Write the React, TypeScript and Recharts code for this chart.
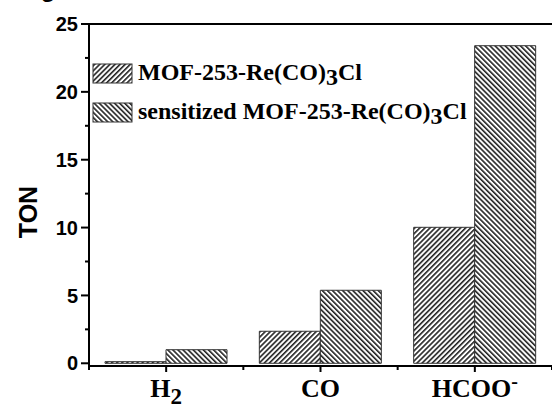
import { Bar, BarChart, Customized, ReferenceLine, XAxis, YAxis } from "recharts";

const categories = ["H2", "CO", "HCOO-"];
const mofValues = [0.12, 2.36, 10.02];
const sensitizedValues = [1.0, 5.38, 23.4];
const seriesNames = ["MOF-253-Re(CO)3Cl", "sensitized MOF-253-Re(CO)3Cl"];
const yTicks = [0, 2.5, 5, 7.5, 10, 12.5, 15, 17.5, 20, 22.5, 25];
const yMajor = [0, 5, 10, 15, 20, 25];

const data = categories.map((name, i) => ({
  name,
  mof: mofValues[i],
  sensitized: sensitizedValues[i],
}));

const serif = "'Liberation Serif', 'Times New Roman', serif";
const sans = "'Liberation Sans', Arial, sans-serif";

function YTick(props: any) {
  const { x, y, payload } = props;
  const major = yMajor.includes(payload.value);
  return (
    <g>
      <line x1={x} x2={x - (major ? 8 : 4)} y1={y} y2={y} stroke="#000" strokeWidth={2} />
      {major && (
        <text x={x - 11} y={y} dy="0.36em" textAnchor="end" fontFamily={sans} fontWeight="bold" fontSize={20} fill="#000">
          {payload.value}
        </text>
      )}
    </g>
  );
}

function categoryLabel(v: string) {
  if (v === "H2")
    return (
      <>
        H<tspan fontSize={23} dy={7}>2</tspan>
      </>
    );
  if (v === "HCOO-")
    return (
      <>
        HCOO<tspan fontSize={20} dy={-9}>-</tspan>
      </>
    );
  return v;
}

function XTick(props: any) {
  const { x, y, payload, index } = props;
  const half = payload.offset || 77;
  return (
    <g>
      <line x1={x} x2={x} y1={y} y2={y + 6} stroke="#000" strokeWidth={2} />
      <line x1={x - half} x2={x - half} y1={y} y2={y + 4} stroke="#000" strokeWidth={2} />
      {index === categories.length - 1 && (
        <line x1={x + half} x2={x + half} y1={y} y2={y + 4} stroke="#000" strokeWidth={2} />
      )}
      <text x={x} y={y + 31} textAnchor="middle" fontFamily={serif} fontWeight="bold" fontSize={26} fill="#000">
        {categoryLabel(payload.value)}
      </text>
    </g>
  );
}

function legendName(s: string) {
  const [head, tail] = s.split(")3");
  return (
    <>
      {head})<tspan dy={5}>3</tspan>
      <tspan dy={-5}>{tail}</tspan>
    </>
  );
}

function Extras() {
  const fills = ["url(#hatchA)", "url(#hatchB)"];
  return (
    <g>
      <text x={48} y={-3} textAnchor="middle" fontFamily={sans} fontWeight="bold" fontSize={24} fill="#000">
        g
      </text>
      <text
        x={28}
        y={212}
        transform="rotate(-90 28 212)"
        textAnchor="middle"
        dy="0.35em"
        fontFamily={sans}
        fontWeight="bold"
        fontSize={25}
        fill="#000"
      >
        TON
      </text>
      {seriesNames.map((name, i) => (
        <g key={name}>
          <rect x={93} y={64 + i * 39} width={39} height={19} fill={fills[i]} stroke="#333" strokeWidth={1} />
          <text x={138} y={80 + i * 39} fontFamily={serif} fontWeight="bold" fontSize={24} fill="#000">
            {legendName(name)}
          </text>
        </g>
      ))}
    </g>
  );
}

export default function App() {
  return (
    <div style={{ position: "absolute", left: 0, top: 0, width: 552, height: 410, background: "#fff" }}>
      <svg width={0} height={0} style={{ position: "absolute" }}>
        <defs>
          <pattern id="hatchA" patternUnits="userSpaceOnUse" width={3.6} height={3.6} patternTransform="rotate(45)">
            <rect x={0} y={0} width={3.6} height={3.6} fill="#fff" />
            <rect x={0} y={0} width={1.6} height={3.6} fill="#222" />
          </pattern>
          <pattern id="hatchB" patternUnits="userSpaceOnUse" width={3.6} height={3.6} patternTransform="rotate(-45)">
            <rect x={0} y={0} width={3.6} height={3.6} fill="#fff" />
            <rect x={0} y={0} width={1.6} height={3.6} fill="#222" />
          </pattern>
        </defs>
      </svg>
      <BarChart
        width={552}
        height={410}
        data={data}
        margin={{ top: 24, right: 0, bottom: 0, left: 0 }}
        barCategoryGap={16}
        barGap={0}
      >
        <XAxis
          dataKey="name"
          height={44}
          tickSize={0}
          tickMargin={0}
          tickLine={false}
          axisLine={{ stroke: "#000", strokeWidth: 2 }}
          tick={<XTick />}
        />
        <YAxis
          width={89}
          domain={[-0.2, 25]}
          ticks={yTicks}
          interval={0}
          tickSize={0}
          tickMargin={0}
          tickLine={false}
          axisLine={{ stroke: "#000", strokeWidth: 2 }}
          tick={<YTick />}
        />
        <ReferenceLine y={25} stroke="#000" strokeWidth={2} />
        <Bar dataKey="mof" fill="url(#hatchA)" stroke="#333" strokeWidth={1} isAnimationActive={false} />
        <Bar dataKey="sensitized" fill="url(#hatchB)" stroke="#333" strokeWidth={1} isAnimationActive={false} />
        <Customized component={Extras} />
      </BarChart>
    </div>
  );
}
